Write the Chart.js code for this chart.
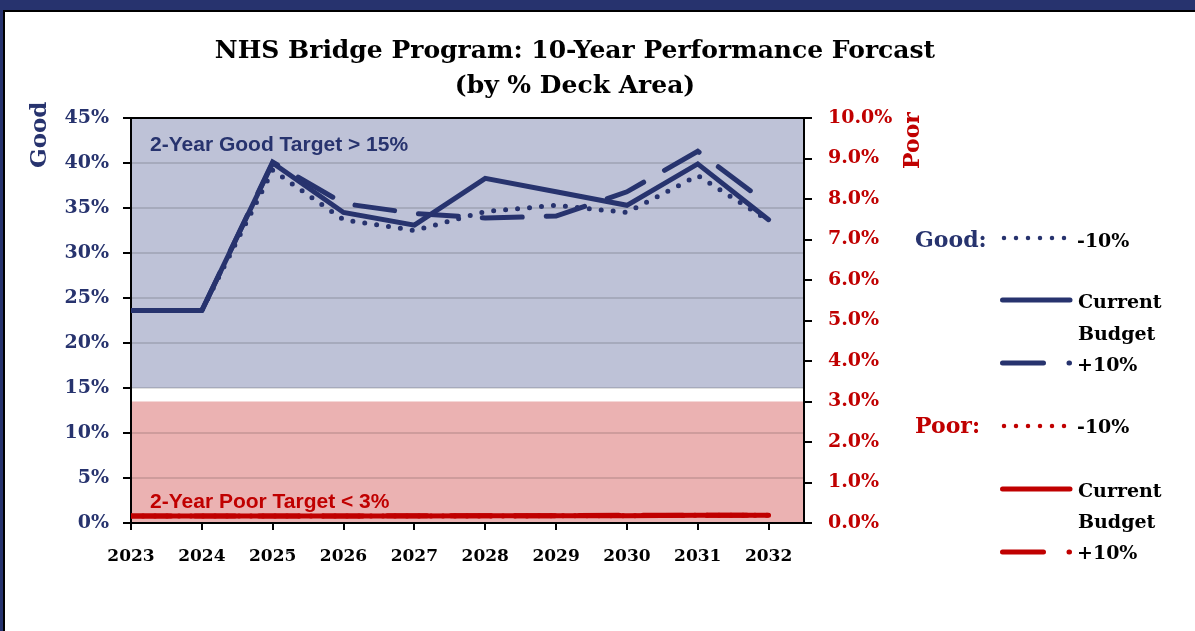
<!DOCTYPE html>
<html>
<head>
<meta charset="utf-8">
<script src="https://cdn.jsdelivr.net/npm/chart.js@4.4.1/dist/chart.umd.min.js"></script>
<style>
html, body { margin: 0; background: #fff; }
body { width: 1195px; height: 631px; overflow: hidden; position: relative; font-family: 'DejaVu Serif', serif; }
#topband { position: absolute; left: 0; top: 0; width: 1195px; height: 10px; background: #27336e; }
#leftband { position: absolute; left: 0; top: 0; width: 3px; height: 631px; background: #27336e; }
#frame { position: absolute; left: 3px; top: 10px; width: 1190px; height: 619px; background: #fff; border-left: 2px solid #000; border-top: 2px solid #000; }
#chart { position: absolute; left: 0; top: 0; }
.t { position: absolute; font-weight: bold; white-space: nowrap; line-height: 1; }
.title { left: 0; width: 1150px; text-align: center; font-size: 25px; color: #000; }
.lg { font-size: 19px; color: #000; }
.note { font-family: 'Liberation Sans', Arial, sans-serif; font-size: 21px; }
#samples { position: absolute; left: 0; top: 0; }
</style>
</head>
<body>
<div id="topband"></div>
<div id="leftband"></div>
<div id="frame"></div>
<canvas id="chart" width="1195" height="631"></canvas>

<div class="t title" style="top:37px">NHS Bridge Program: 10-Year Performance Forcast</div>
<div class="t title" style="top:72px">(by % Deck Area)</div>

<div class="t" style="left:26px;top:168px;font-size:23px;color:#27336e;transform:rotate(-90deg);transform-origin:left top;">Good</div>
<div class="t" style="left:900px;top:169px;font-size:22px;color:#c00000;transform:rotate(-90deg);transform-origin:left top;">Poor</div>

<div class="t note" style="left:150px;top:133px;color:#27336e">2-Year Good Target &gt; 15%</div>
<div class="t note" style="left:150px;top:490px;color:#c00000">2-Year Poor Target &lt; 3%</div>

<div class="t" style="left:915px;top:228px;font-size:22px;color:#27336e">Good:</div>
<div class="t lg" style="left:1077px;top:231px">-10%</div>
<div class="t lg" style="left:1078px;top:292px">Current</div>
<div class="t lg" style="left:1078px;top:324px">Budget</div>
<div class="t lg" style="left:1077px;top:355px">+10%</div>

<div class="t" style="left:915px;top:414px;font-size:22px;color:#c00000">Poor:</div>
<div class="t lg" style="left:1077px;top:417px">-10%</div>
<div class="t lg" style="left:1078px;top:481px">Current</div>
<div class="t lg" style="left:1078px;top:512px">Budget</div>
<div class="t lg" style="left:1077px;top:543px">+10%</div>

<svg id="samples" width="1195" height="631">
  <g stroke="#27336e" stroke-width="5" stroke-linecap="round" fill="none">
    <line x1="1004" y1="238" x2="1065" y2="238" stroke-width="4.5" stroke-dasharray="0 12"/>
    <line x1="1002.5" y1="300" x2="1070" y2="300"/>
    <line x1="1002.5" y1="363" x2="1069.5" y2="363" stroke-dasharray="41 25.5"/>
  </g>
  <g stroke="#c00000" stroke-width="5" stroke-linecap="round" fill="none">
    <line x1="1004" y1="426" x2="1065" y2="426" stroke-width="4.5" stroke-dasharray="0 12"/>
    <line x1="1002.5" y1="489" x2="1070" y2="489"/>
    <line x1="1002.5" y1="552" x2="1069.5" y2="552" stroke-dasharray="41 25.5"/>
  </g>
</svg>

<script>
const years = [2023, 2024, 2025, 2026, 2027, 2028, 2029, 2030, 2031, 2032]

// Good (% deck area, left axis)
const goodMinus10 = [23.6, 23.6, 39.2, 33.7, 32.5, 34.6, 35.3, 34.5, 38.6, 33.6]
const goodCurrent = [23.6, 23.6, 40.0, 34.5, 33.1, 38.3, 36.8, 35.3, 39.9, 33.7]
const goodPlus10 = [23.6, 23.6, 40.1, 35.5, 34.4, 33.9, 34.1, 36.8, 41.3, 35.4]

// Poor (% deck area, right axis)
const poorMinus10 = [0.17, 0.17, 0.17, 0.17, 0.17, 0.17, 0.18, 0.18, 0.19, 0.19]
const poorCurrent = [0.17, 0.17, 0.17, 0.17, 0.17, 0.18, 0.18, 0.18, 0.19, 0.19]
const poorPlus10 = [0.17, 0.17, 0.17, 0.17, 0.18, 0.18, 0.18, 0.19, 0.19, 0.19]

// target bands
const goodTarget = [15, 45]
const poorTarget = [0, 3]

const navy = '#27336e'
const red = '#c00000'

function points(values) {
    return years.map((year, i) => ({ x: year, y: values[i] }))
}

const bands = {
    id: 'bands',
    beforeDraw(chart) {
        const { ctx, chartArea, scales } = chart
        const w = chartArea.right - chartArea.left
        ctx.save()
        let top = scales.y.getPixelForValue(goodTarget[1])
        let bottom = scales.y.getPixelForValue(goodTarget[0])
        ctx.fillStyle = '#bec2d7'
        ctx.fillRect(chartArea.left, top, w, bottom - top)
        top = scales.y1.getPixelForValue(poorTarget[1])
        bottom = scales.y1.getPixelForValue(poorTarget[0])
        ctx.fillStyle = '#ebb2b2'
        ctx.fillRect(chartArea.left, top, w, bottom - top)
        ctx.restore()
    },
    afterDraw(chart) {
        const { ctx, chartArea } = chart
        ctx.save()
        ctx.strokeStyle = '#000'
        ctx.lineWidth = 2
        ctx.beginPath()
        ctx.moveTo(chartArea.left, chartArea.top)
        ctx.lineTo(chartArea.right, chartArea.top)
        ctx.stroke()
        ctx.restore()
    }
}

const tickFont = { family: "'DejaVu Serif', serif", size: 19, weight: 'bold' }

new Chart(document.getElementById('chart'), {
    type: 'line',
    data: {
        datasets: [
            { label: 'Poor -10%', data: points(poorMinus10), yAxisID: 'y1', borderColor: red, borderWidth: 5, borderDash: [0, 12], borderCapStyle: 'round', order: 0 },
            { label: 'Poor +10%', data: points(poorPlus10), yAxisID: 'y1', borderColor: red, borderWidth: 5, borderDash: [40, 24], borderCapStyle: 'round', order: 0 },
            { label: 'Poor Current Budget', data: points(poorCurrent), yAxisID: 'y1', borderColor: red, borderWidth: 5, borderCapStyle: 'round', order: 0 },
            { label: 'Good Current Budget', data: points(goodCurrent), yAxisID: 'y', borderColor: navy, borderWidth: 5, borderCapStyle: 'round', order: 1 },
            { label: 'Good +10%', data: points(goodPlus10), yAxisID: 'y', borderColor: navy, borderWidth: 5, borderDash: [40, 24], borderDashOffset: 55, borderCapStyle: 'round', order: 2 },
            { label: 'Good -10%', data: points(goodMinus10), yAxisID: 'y', borderColor: navy, borderWidth: 5, borderDash: [0, 12], borderCapStyle: 'round', order: 3 }
        ]
    },
    options: {
        responsive: false,
        animation: false,
        devicePixelRatio: 1,
        elements: { point: { radius: 0 }, line: { tension: 0 } },
        layout: { padding: { top: 118, left: 0, right: 0, bottom: 0 } },
        plugins: { legend: { display: false }, tooltip: { enabled: false }, title: { display: false } },
        scales: {
            x: {
                type: 'linear',
                min: 2023,
                max: 2032.5,
                afterBuildTicks: s => { s.ticks = years.map(y => ({ value: y })) },
                afterFit: s => { s.height = 631 - 523 },
                ticks: { color: '#000', padding: 16, maxRotation: 0, autoSkip: false, font: { ...tickFont, size: 17 }, callback: v => String(v) },
                grid: { drawOnChartArea: false, color: '#000', tickLength: 7, lineWidth: 2 },
                border: { color: '#000', width: 2 }
            },
            y: {
                position: 'left',
                min: 0,
                max: 45,
                afterFit: s => { s.width = 131 },
                ticks: { stepSize: 5, color: navy, padding: 14, font: tickFont, callback: v => v + '%' },
                grid: { color: 'rgba(0,0,0,0.12)', lineWidth: 2, tickColor: '#000', tickLength: 8 },
                border: { color: '#000', width: 2 }
            },
            y1: {
                position: 'right',
                min: 0,
                max: 10,
                afterFit: s => { s.width = 1195 - 804 },
                ticks: { stepSize: 1, color: red, padding: 16, font: tickFont, callback: v => v.toFixed(1) + '%' },
                grid: { drawOnChartArea: false, color: '#000', tickLength: 8, lineWidth: 2 },
                border: { color: '#000', width: 2 }
            }
        }
    },
    plugins: [bands]
})
</script>
</body>
</html>
